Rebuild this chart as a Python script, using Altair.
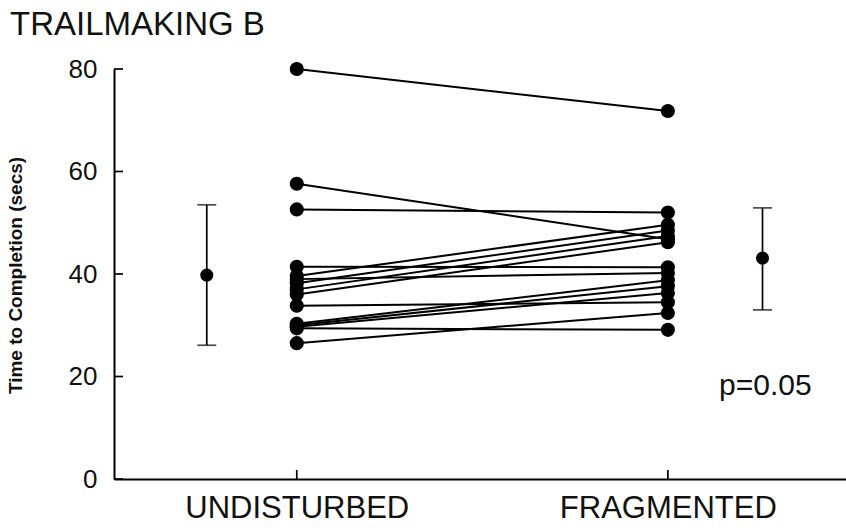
import altair as alt
import pandas as pd

# Trail Making B completion times (seconds), one pair per participant
conditions = ["UNDISTURBED", "FRAGMENTED"]
undisturbed = [80.0, 57.6, 52.6, 41.4, 39.6, 38.2, 37.0, 36.0, 39.0, 33.8, 30.3, 30.0, 29.7, 29.4, 26.5]
fragmented = [71.8, 46.8, 52.0, 41.3, 49.6, 48.5, 47.4, 46.2, 40.2, 34.5, 38.8, 37.6, 36.3, 29.1, 32.4]

# group summaries: mean with error bar ends
group_mean = [39.8, 43.1]
group_low = [26.1, 33.0]
group_high = [53.5, 52.9]

y_ticks = [0, 20, 40, 60, 80]
p_text = "p=0.05"

# horizontal slots on a shared numeric x scale
cond_slot = [0.0, 4.0]
summary_slot = [-0.97, 5.02]
x_domain = [-1.97, 5.92]

W, H = 732, 410
FONT = "Liberation Sans"
INK = "#111111"

pairs = pd.DataFrame({
    "subject": list(range(len(undisturbed))) * 2,
    "x": [cond_slot[0]] * len(undisturbed) + [cond_slot[1]] * len(fragmented),
    "time": undisturbed + fragmented,
})
summary = pd.DataFrame({"x": summary_slot, "mean": group_mean,
                        "low": group_low, "high": group_high})
ytick_df = pd.DataFrame({"v": y_ticks})
xtick_df = pd.DataFrame({"v": cond_slot})
note_df = pd.DataFrame({"x": [5.05], "y": [18.1], "t": [p_text]})

label_expr = " : ".join(
    f"datum.value == {s} ? '{c}'" for s, c in zip(cond_slot, conditions)
) + " : ''"

xscale = alt.Scale(domain=x_domain, nice=False, zero=False)
yscale = alt.Scale(domain=[0, 80], nice=False)

x_axis = alt.Axis(values=cond_slot, labelExpr=label_expr, title=None, grid=False,
                  ticks=False, tickSize=0, labelPadding=14, labelFontSize=31,
                  labelLimit=0, labelFont=FONT, labelColor=INK, labelBaseline="top",
                  domainColor="black", domainWidth=2)
y_axis = alt.Axis(values=y_ticks, title="Time to Completion (secs)", grid=False,
                  ticks=False, tickSize=0, labelPadding=17, labelFontSize=26,
                  labelFont=FONT, labelColor=INK, titleFont=FONT, titleFontSize=19,
                  titleFontWeight="bold", titleColor=INK, titleAngle=270,
                  titleX=-99, titleY=H / 2 + 1, titleAlign="center", titleBaseline="middle",
                  domainColor="black", domainWidth=2)

base = alt.Chart(pairs)

lines = base.mark_line(color="black", strokeWidth=2).encode(
    x=alt.X("x:Q", scale=xscale, axis=x_axis),
    y=alt.Y("time:Q", scale=yscale, axis=y_axis),
    detail="subject:N",
)
dots = base.mark_circle(color="black", opacity=1, size=200).encode(
    x=alt.X("x:Q", scale=xscale), y=alt.Y("time:Q", scale=yscale)
)

sb = alt.Chart(summary)
bars = sb.mark_rule(color="black", strokeWidth=1.7).encode(
    x=alt.X("x:Q", scale=xscale), y=alt.Y("low:Q", scale=yscale), y2="high:Q"
)
cap_hi = sb.mark_tick(color="black", orient="horizontal", size=19, thickness=1.7).encode(
    x=alt.X("x:Q", scale=xscale), y=alt.Y("high:Q", scale=yscale)
)
cap_lo = sb.mark_tick(color="black", orient="horizontal", size=19, thickness=1.7).encode(
    x=alt.X("x:Q", scale=xscale), y=alt.Y("low:Q", scale=yscale)
)
means = sb.mark_circle(color="black", opacity=1, size=170).encode(
    x=alt.X("x:Q", scale=xscale), y=alt.Y("mean:Q", scale=yscale)
)

# inward-pointing tick marks on both axes
yticks = alt.Chart(ytick_df).mark_rule(color="black", strokeWidth=1.7).encode(
    y=alt.Y("v:Q", scale=yscale), x=alt.value(0), x2=alt.value(9)
)
xticks = alt.Chart(xtick_df).mark_rule(color="black", strokeWidth=1.7).encode(
    x=alt.X("v:Q", scale=xscale), y=alt.value(H), y2=alt.value(H - 9)
)

note = alt.Chart(note_df).mark_text(font=FONT, fontSize=30, color=INK,
                                    align="center", baseline="middle").encode(
    x=alt.X("x:Q", scale=xscale), y=alt.Y("y:Q", scale=yscale), text="t:N"
)

chart = alt.layer(lines, bars, cap_hi, cap_lo, means, dots, yticks, xticks, note).properties(
    width=W, height=H,
    title=alt.TitleParams("TRAILMAKING B", anchor="start", frame="group", dx=-104,
                          offset=14, font=FONT, fontSize=33, fontWeight="normal",
                          color=INK),
    autosize=alt.AutoSizeParams(type="none"),
    padding={"left": 114, "top": 69, "right": 0, "bottom": 49},
).configure(background="white", view=alt.ViewConfig(stroke=None))

chart.save("out.html", embed_options={"renderer": "svg", "actions": False})
